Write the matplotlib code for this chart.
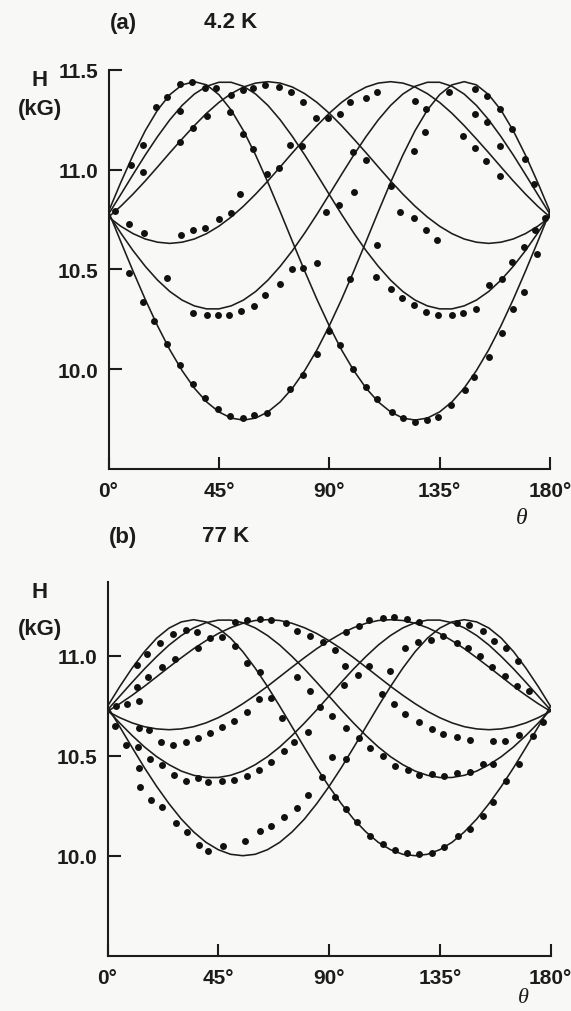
import matplotlib
matplotlib.use("Agg")
import matplotlib.pyplot as plt

plt.rcParams['font.family'] = ['Liberation Sans', 'DejaVu Sans']

# angle grid for the fitted curves (degrees)
theta_grid = [0, 5, 10, 15, 20, 25, 30, 35, 40, 45, 50, 55, 60, 65, 70, 75, 80, 85, 90,
              95, 100, 105, 110, 115, 120, 125, 130, 135, 140, 145, 150, 155, 160, 165,
              170, 175, 180]

# ---- (a) 4.2 K : fitted curves, H in kG ----
curve_a1 = [10.789, 10.935, 11.072, 11.195, 11.298, 11.375, 11.424, 11.440, 11.424, 11.375,
            11.298, 11.195, 11.072, 10.935, 10.789, 10.639, 10.491, 10.349, 10.217, 10.097,
            9.993, 9.905, 9.836, 9.786, 9.755, 9.745, 9.755, 9.786, 9.836, 9.905, 9.993,
            10.097, 10.217, 10.349, 10.491, 10.639, 10.789]
curve_a2 = [10.776, 10.875, 10.975, 11.073, 11.165, 11.249, 11.321, 11.378, 11.417, 11.437,
            11.437, 11.417, 11.378, 11.321, 11.249, 11.165, 11.073, 10.975, 10.875, 10.776,
            10.682, 10.594, 10.515, 10.446, 10.389, 10.346, 10.317, 10.302, 10.302, 10.317,
            10.346, 10.389, 10.446, 10.515, 10.594, 10.682, 10.776]
curve_a3 = [10.762, 10.816, 10.877, 10.943, 11.013, 11.084, 11.153, 11.220, 11.282, 11.336,
            11.380, 11.413, 11.433, 11.440, 11.433, 11.413, 11.380, 11.336, 11.282, 11.220,
            11.153, 11.084, 11.013, 10.943, 10.877, 10.816, 10.762, 10.716, 10.679, 10.652,
            10.636, 10.630, 10.636, 10.652, 10.679, 10.716, 10.762]
curve_a4 = [10.762, 10.716, 10.679, 10.652, 10.636, 10.630, 10.636, 10.652, 10.679, 10.716,
            10.762, 10.816, 10.877, 10.943, 11.013, 11.084, 11.153, 11.220, 11.282, 11.336,
            11.380, 11.413, 11.433, 11.440, 11.433, 11.413, 11.380, 11.336, 11.282, 11.220,
            11.153, 11.084, 11.013, 10.943, 10.877, 10.816, 10.762]
curve_a5 = [10.776, 10.682, 10.594, 10.515, 10.446, 10.389, 10.346, 10.317, 10.302, 10.302,
            10.317, 10.346, 10.389, 10.446, 10.515, 10.594, 10.682, 10.776, 10.875, 10.975,
            11.073, 11.165, 11.249, 11.321, 11.378, 11.417, 11.437, 11.437, 11.417, 11.378,
            11.321, 11.249, 11.165, 11.073, 10.975, 10.875, 10.776]
curve_a6 = [10.789, 10.639, 10.491, 10.349, 10.217, 10.097, 9.993, 9.905, 9.836, 9.786,
            9.755, 9.745, 9.755, 9.786, 9.836, 9.905, 9.993, 10.097, 10.217, 10.349,
            10.491, 10.639, 10.789, 10.935, 11.072, 11.195, 11.298, 11.375, 11.424, 11.440,
            11.424, 11.375, 11.298, 11.195, 11.072, 10.935, 10.789]

# (a) measured points (theta, H)
dots_a = [
    (2.5, 10.79), (9, 11.023), (14, 11.123), (19.5, 11.315), (24, 11.365), (29, 11.428),
    (34, 11.44), (14, 10.99), (29, 11.295), (39.5, 11.41), (44, 11.407),
    (29, 11.137), (34.5, 11.207), (40, 11.27), (50, 11.373), (55, 11.40), (59, 11.407),
    (64, 11.423), (69.5, 11.412), (74.5, 11.387), (79.5, 11.337), (84.5, 11.257),
    (89.5, 11.257), (49.5, 11.287), (55, 11.178), (59, 11.103), (64.5, 10.978),
    (69.5, 11.007), (74, 11.123), (79, 11.12),
    (8.5, 10.728), (14.5, 10.682), (29.5, 10.67), (34.5, 10.698), (39.5, 10.707),
    (45, 10.753), (50, 10.783), (53.5, 10.878),
    (24, 10.458), (34.5, 10.283), (40, 10.273), (44.5, 10.27), (49, 10.273), (54, 10.292),
    (59.5, 10.317), (64, 10.37), (70, 10.425), (75, 10.503), (79.5, 10.508), (85, 10.532),
    (8.5, 10.483), (14, 10.337), (18.5, 10.242), (24, 10.125), (29, 10.02), (34.5, 9.925),
    (39.5, 9.857), (44.5, 9.803), (49.5, 9.765), (55, 9.753), (59.5, 9.77), (64.5, 9.782),
    (74, 9.903), (79.5, 9.973), (85, 10.075), (90, 10.19),
    (94.5, 11.278), (98.5, 11.34), (105, 11.357), (109.5, 11.39), (125, 11.345),
    (139, 11.387), (149.5, 11.403), (154.5, 11.37), (129.5, 11.303), (149.5, 11.278),
    (154.5, 11.24), (129, 11.19), (124.5, 11.095), (144.5, 11.167), (149.5, 11.107),
    (154, 11.045), (99.5, 11.087), (105, 11.05), (88.5, 10.787), (94, 10.823),
    (100, 10.885), (115, 10.915), (119, 10.787), (124.5, 10.757), (129.5, 10.695),
    (134, 10.648), (109.5, 10.62), (98.5, 10.453), (109, 10.462), (115, 10.403),
    (119.5, 10.357), (124.5, 10.32), (129.5, 10.287), (134.5, 10.27), (140, 10.27),
    (144.5, 10.283), (150, 10.303), (155, 10.42),
    (159.5, 11.303), (164.5, 11.203), (170, 11.053), (173.5, 10.928), (159.5, 11.117),
    (159.5, 10.97), (174, 10.695), (169.5, 10.612), (164.5, 10.537), (160.5, 10.453),
    (174.5, 10.575), (169.5, 10.387), (165, 10.303), (160.5, 10.183), (155, 10.062),
    (149, 9.962), (145.5, 9.895), (139.5, 9.82), (134.5, 9.762), (130, 9.745),
    (125, 9.737), (120, 9.753), (115.5, 9.787), (109.5, 9.853), (105, 9.912),
    (99.5, 10.003), (94.5, 10.12), (178, 10.755),
]

# ---- (b) 77 K : fitted curves ----
curve_b1 = [10.747, 10.846, 10.938, 11.020, 11.088, 11.138, 11.169, 11.180, 11.169, 11.138,
            11.088, 11.020, 10.938, 10.846, 10.747, 10.644, 10.541, 10.440, 10.346, 10.260,
            10.183, 10.119, 10.067, 10.030, 10.007, 10.000, 10.007, 10.030, 10.067, 10.119,
            10.183, 10.260, 10.346, 10.440, 10.541, 10.644, 10.747]
curve_b2 = [10.729, 10.798, 10.867, 10.934, 10.996, 11.053, 11.101, 11.139, 11.165, 11.178,
            11.178, 11.165, 11.139, 11.101, 11.053, 10.996, 10.934, 10.867, 10.798, 10.729,
            10.663, 10.601, 10.544, 10.495, 10.455, 10.423, 10.402, 10.391, 10.391, 10.402,
            10.423, 10.455, 10.495, 10.544, 10.601, 10.663, 10.729]
curve_b3 = [10.722, 10.760, 10.802, 10.847, 10.895, 10.943, 10.990, 11.035, 11.075, 11.111,
            11.140, 11.162, 11.176, 11.180, 11.176, 11.162, 11.140, 11.111, 11.075, 11.035,
            10.990, 10.943, 10.895, 10.847, 10.802, 10.760, 10.722, 10.690, 10.664, 10.645,
            10.634, 10.630, 10.634, 10.645, 10.664, 10.690, 10.722]
curve_b4 = [10.722, 10.690, 10.664, 10.645, 10.634, 10.630, 10.634, 10.645, 10.664, 10.690,
            10.722, 10.760, 10.802, 10.847, 10.895, 10.943, 10.990, 11.035, 11.075, 11.111,
            11.140, 11.162, 11.176, 11.180, 11.176, 11.162, 11.140, 11.111, 11.075, 11.035,
            10.990, 10.943, 10.895, 10.847, 10.802, 10.760, 10.722]
curve_b5 = [10.729, 10.663, 10.601, 10.544, 10.495, 10.455, 10.423, 10.402, 10.391, 10.391,
            10.402, 10.423, 10.455, 10.495, 10.544, 10.601, 10.663, 10.729, 10.798, 10.867,
            10.934, 10.996, 11.053, 11.101, 11.139, 11.165, 11.178, 11.178, 11.165, 11.139,
            11.101, 11.053, 10.996, 10.934, 10.867, 10.798, 10.729]
curve_b6 = [10.747, 10.644, 10.541, 10.440, 10.346, 10.260, 10.183, 10.119, 10.067, 10.030,
            10.007, 10.000, 10.007, 10.030, 10.067, 10.119, 10.183, 10.260, 10.346, 10.440,
            10.541, 10.644, 10.747, 10.846, 10.938, 11.020, 11.088, 11.138, 11.169, 11.180,
            11.169, 11.138, 11.088, 11.020, 10.938, 10.846, 10.747]

dots_b = [
    (3.5, 10.75), (3.1, 10.65), (7.8, 10.758), (7.6, 10.555), (12.6, 10.775), (11.9, 10.842),
    (11.9, 10.953), (13, 10.637), (12.3, 10.545), (13, 10.437), (13.2, 10.342),
    (16.6, 10.892), (15.9, 11.008), (17, 10.63), (17.3, 10.483), (17.6, 10.28),
    (22, 10.942), (21.3, 11.063), (21.8, 10.567), (22, 10.453), (22, 10.242),
    (27.4, 10.983), (26.8, 11.108), (26.8, 10.555), (27, 10.405), (27.8, 10.163),
    (31.9, 11.13), (31.9, 10.567), (31.9, 10.375), (32.4, 10.117),
    (36.9, 11.037), (36.2, 11.117), (36.9, 10.588), (36.6, 10.388), (37.3, 10.053),
    (41.6, 11.087), (41.6, 10.613), (40.9, 10.367), (40.9, 10.025),
    (46.6, 11.095), (46.4, 10.642), (46.6, 10.372), (47, 10.047),
    (51.8, 11.17), (51.8, 11.047), (51.4, 10.675), (51.5, 10.38),
    (56.5, 11.18), (56.5, 10.963), (56.5, 10.717), (56.5, 10.40), (55.9, 10.075),
    (61.9, 11.183), (61.9, 10.92), (61.6, 10.783), (61.6, 10.428), (61.9, 10.122),
    (66.6, 11.18), (66.6, 10.787), (66.6, 10.467), (66.6, 10.15),
    (71.1, 10.687), (71.6, 10.525), (71.6, 10.192), (72.7, 11.162),
    (76.8, 11.125), (82.4, 11.10), (87.6, 11.067), (92.3, 11.03), (97, 11.117),
    (96.4, 10.947), (96, 10.853), (76.8, 10.892), (82.4, 10.825), (86.5, 10.742),
    (91.4, 10.70), (81.5, 10.62), (75.7, 10.57), (96.8, 10.637), (91.4, 10.492),
    (96.8, 10.483), (87.3, 10.392), (81.5, 10.303), (76.8, 10.237), (92.3, 10.292),
    (96.8, 10.233),
    (102.1, 11.15), (106.2, 11.18), (111.8, 11.187), (116.5, 11.192), (121.5, 11.183),
    (126.6, 11.17), (141.9, 11.163), (147, 11.153), (152.4, 11.125), (157, 11.075),
    (161.9, 11.037), (166.9, 10.975), (131.3, 11.08), (136.5, 11.097), (141.9, 11.063),
    (146.6, 11.037), (151.3, 10.997), (156.1, 10.942), (161.5, 10.897), (166.5, 10.847),
    (171.4, 10.825), (121, 11.037), (126.3, 11.067), (114.8, 10.925), (106.2, 10.95),
    (101.7, 10.903), (116.5, 10.758), (121, 10.708), (126.6, 10.67), (131.8, 10.633),
    (136.2, 10.608), (141.9, 10.592), (147.3, 10.58), (156.5, 10.575), (161.5, 10.575),
    (167.3, 10.603), (172.8, 10.597), (177.1, 10.667), (111.6, 10.808),
    (102.1, 10.587), (106.7, 10.537), (111.8, 10.497), (116.9, 10.45), (122.3, 10.43),
    (126.6, 10.403), (131.8, 10.408), (136.7, 10.40), (141.9, 10.413), (147.3, 10.42),
    (152.4, 10.458), (156.5, 10.458), (167.3, 10.458),
    (101.3, 10.17), (106.7, 10.10), (111.8, 10.058), (116.9, 10.03), (121.5, 10.013),
    (126.6, 10.008), (131.8, 10.013), (136.7, 10.042), (142.5, 10.097), (147.3, 10.133),
    (152.7, 10.20), (156.8, 10.267), (161.9, 10.375),
]

x_ticks = [0, 45, 90, 135, 180]
x_labels = ["0\u00b0", "45\u00b0", "90\u00b0", "135\u00b0", "180\u00b0"]
y_ticks_a = [10.0, 10.5, 11.0, 11.5]
y_ticks_b = [10.0, 10.5, 11.0]

W, H = 571, 1012
bg = "#f8f8f6"
ink = "#1c1c1c"

fig = plt.figure(figsize=(W / 100, H / 100), dpi=100, facecolor=bg)


def px_axes(left, top, right, bottom):
    return fig.add_axes([left / W, 1 - bottom / H, (right - left) / W, (bottom - top) / H])


def draw_panel(ax, curves, dots, ylim, yticks):
    ax.set_facecolor(bg)
    for c in curves:
        ax.plot(theta_grid, c, color=ink, lw=1.15, zorder=2)
    ax.plot([d[0] for d in dots], [d[1] for d in dots], "o", color="#111111",
            ms=5.0, mew=0, zorder=3)
    ax.set_xlim(0, 180)
    ax.set_ylim(*ylim)
    for s in ["top", "right"]:
        ax.spines[s].set_visible(False)
    for s in ["left", "bottom"]:
        ax.spines[s].set_linewidth(1.5)
        ax.spines[s].set_color(ink)
    ax.set_xticks(x_ticks)
    ax.set_xticklabels(x_labels)
    ax.set_yticks(yticks)
    ax.set_yticklabels(["%.1f" % v for v in yticks])
    ax.tick_params(direction="in", length=9, width=1.5, color=ink, labelsize=15,
                   labelcolor=ink)
    ax.tick_params(axis="x", pad=9)
    ax.tick_params(axis="y", pad=7)
    for t in ax.get_xticklabels() + ax.get_yticklabels():
        t.set_fontweight("bold")


ax_a = px_axes(108.5, 70.7, 550, 470)
draw_panel(ax_a, [curve_a1, curve_a2, curve_a3, curve_a4, curve_a5, curve_a6],
           dots_a, (9.5, 11.5), y_ticks_a)

ax_b = px_axes(107.5, 583.3, 550.5, 956.7)
draw_panel(ax_b, [curve_b1, curve_b2, curve_b3, curve_b4, curve_b5, curve_b6],
           dots_b, (9.5, 11.367), y_ticks_b)


def ftext(x, y, s, **kw):
    fig.text(x / W, 1 - y / H, s, ha="center", va="center", color=ink, **kw)


serif = ["Liberation Serif", "DejaVu Serif"]
ftext(123, 23, "(a)", fontsize=16, fontweight="bold")
ftext(231, 23, "4.2 K", fontsize=16, fontweight="bold")
ftext(40, 80, "H", fontsize=16, fontweight="bold")
ftext(40, 110, "(kG)", fontsize=16, fontweight="bold")
ftext(522, 518, "\u03b8", fontsize=17, style="italic", family=serif)

ftext(123, 537, "(b)", fontsize=16, fontweight="bold")
ftext(226, 537, "77 K", fontsize=16, fontweight="bold")
ftext(40, 593, "H", fontsize=16, fontweight="bold")
ftext(40, 630, "(kG)", fontsize=16, fontweight="bold")
ftext(523, 999, "\u03b8", fontsize=16, style="italic", family=serif)

fig.savefig("out.png", dpi=100, facecolor=bg)
